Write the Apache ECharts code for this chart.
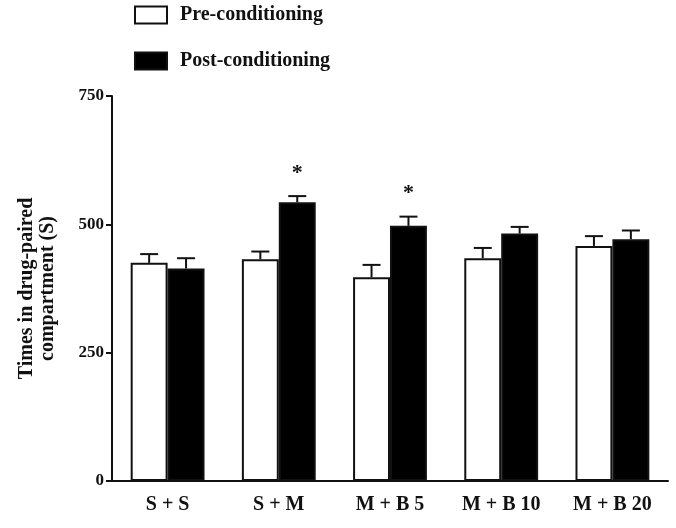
<!DOCTYPE html>
<html><head><meta charset="utf-8">
<script src="https://cdn.jsdelivr.net/npm/echarts@6/dist/echarts.min.js"></script>
<style>html,body{margin:0;padding:0;background:#fff}#c{width:676px;height:528px}</style>
</head><body><div id="c"></div>
<script>
const categories = ['S + S', 'S + M', 'M + B 5', 'M + B 10', 'M + B 20'];
const preValues = [425, 432, 397, 434, 458];
const preErrors = [17, 15, 24, 20, 19];
const postValues = [414, 543, 497, 482, 471];
const postErrors = [20, 12, 18, 13, 17];
const postStars = ['', '*', '*', '', ''];
const yTicks = [0, 250, 500, 750];

const FONT = '"Liberation Serif", "Times New Roman", serif';
const GAP = 0.336;

function errSeries(name, values, errors, sign, stars) {
  return {
    type: 'custom', name: name + '-err', silent: true, z: 5,
    data: values.map((v, i) => [i, v, errors[i]]),
    renderItem: function (params, api) {
      const i = api.value(0), v = api.value(1), e = api.value(2);
      const band = api.size([1, 0])[0];
      const bw = band * (1 - GAP) / 2;
      const c = api.coord([i, v]);
      const x = c[0] + sign * bw / 2;
      const top = api.coord([i, v + e])[1];
      const children = [
        { type: 'line', shape: { x1: x, y1: c[1], x2: x, y2: top }, style: { stroke: '#111', lineWidth: 2 } },
        { type: 'line', shape: { x1: x - 9, y1: top, x2: x + 9, y2: top }, style: { stroke: '#111', lineWidth: 2 } }
      ];
      if (stars && stars[i]) {
        children.push({ type: 'text', x: x, y: top - 23, style: { text: stars[i], font: 'bold 22px ' + FONT, fill: '#111', textAlign: 'center', textVerticalAlign: 'middle' } });
      }
      return { type: 'group', children: children };
    }
  };
}

const chart = echarts.init(document.getElementById('c'));
chart.setOption({
  animation: false,
  backgroundColor: '#fff',
  grid: { left: 112, right: 8, top: 96, bottom: 47 },
  legend: {
    orient: 'vertical', left: 129, top: 0, itemWidth: 32, itemHeight: 17, itemGap: 26,
    icon: 'rect',
    data: ['Pre-conditioning', 'Post-conditioning'],
    textStyle: { fontFamily: FONT, fontWeight: 'bold', fontSize: 20, color: '#111', padding: [0, 0, 0, 8] }
  },
  xAxis: {
    type: 'category', data: categories,
    axisLine: { lineStyle: { color: '#111', width: 2 } },
    axisTick: { show: false },
    axisLabel: { fontFamily: FONT, fontWeight: 'bold', fontSize: 20, color: '#111', margin: 14 }
  },
  yAxis: {
    type: 'value', min: 0, max: 750, interval: 250,
    name: 'Times in drug-paired\ncompartment (S)', nameLocation: 'middle', nameGap: 54, nameRotate: 90,
    nameTextStyle: { fontFamily: FONT, fontWeight: 'bold', fontSize: 20, color: '#111', lineHeight: 21 },
    axisLine: { show: true, lineStyle: { color: '#111', width: 2 } },
    axisTick: { show: true, length: 6, lineStyle: { color: '#111', width: 2 } },
    splitLine: { show: false },
    axisLabel: { fontFamily: FONT, fontWeight: 'bold', fontSize: 17, color: '#111', margin: 8,
      formatter: v => yTicks.includes(v) ? String(v) : '' }
  },
  series: [
    { type: 'bar', name: 'Pre-conditioning', data: preValues, barGap: '0%', barCategoryGap: (GAP * 100) + '%',
      itemStyle: { color: '#fff', borderColor: '#111', borderWidth: 2 } },
    { type: 'bar', name: 'Post-conditioning', data: postValues, barGap: '0%', barCategoryGap: (GAP * 100) + '%',
      itemStyle: { color: '#000', borderColor: '#111', borderWidth: 2 } },
    errSeries('pre', preValues, preErrors, -1, null),
    errSeries('post', postValues, postErrors, 1, postStars)
  ]
});
</script></body></html>
